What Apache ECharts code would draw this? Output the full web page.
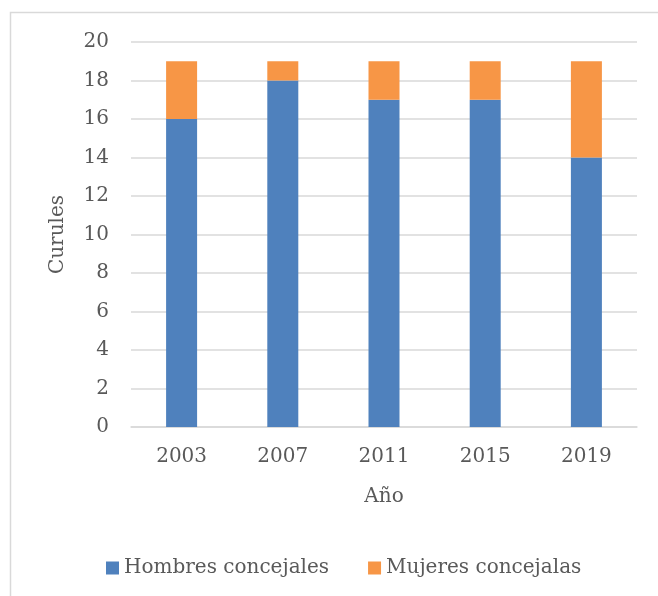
<!DOCTYPE html>
<html>
<head>
<meta charset="utf-8">
<script src="https://cdn.jsdelivr.net/npm/echarts@6/dist/echarts.min.js"></script>
<style>
  html, body { margin: 0; padding: 0; background: #fff; }
  #main { width: 658px; height: 596px; }
</style>
</head>
<body>
<div id="main"></div>
<script>
var anios = ['2003', '2007', '2011', '2015', '2019'];
var hombres = [16, 18, 17, 17, 14];
var mujeres = [3, 1, 2, 2, 5];

var fuente = 'DejaVu Serif';
var gris = '#595959';

var myChart = echarts.init(document.getElementById('main'));
var option = {
    backgroundColor: '#fff',
    textStyle: { fontFamily: fuente },
    graphic: [{
        type: 'rect',
        shape: { x: 10.5, y: 12.5, width: 700, height: 700 },
        style: { fill: 'none', stroke: '#d9d9d9', lineWidth: 1.5 },
        silent: true
    }],
    grid: { left: 131, right: 21, top: 42, bottom: 169 },
    legend: {
        top: 553,
        left: 101,
        icon: 'rect',
        itemWidth: 13,
        itemHeight: 13,
        itemGap: 39,
        itemTextGap: 6,
        textStyle: { fontFamily: fuente, fontSize: 20, color: gris },
        data: ['Hombres concejales', 'Mujeres concejalas']
    },
    xAxis: {
        type: 'category',
        data: anios,
        name: 'Año',
        nameLocation: 'middle',
        nameGap: 60,
        nameTextStyle: { fontFamily: fuente, fontSize: 20, color: gris },
        axisLine: { lineStyle: { color: '#d9d9d9', width: 1.5 } },
        axisTick: { show: false },
        axisLabel: { fontFamily: fuente, fontSize: 20, color: gris, margin: 20 }
    },
    yAxis: {
        type: 'value',
        min: 0,
        max: 20,
        interval: 2,
        name: 'Curules',
        nameLocation: 'middle',
        nameGap: 63,
        nameTextStyle: { fontFamily: fuente, fontSize: 20, color: gris },
        axisLine: { show: false },
        axisTick: { show: false },
        splitLine: { lineStyle: { color: '#d9d9d9', width: 1.5 } },
        axisLabel: { fontFamily: fuente, fontSize: 20, color: gris, margin: 22 }
    },
    series: [
        {
            name: 'Hombres concejales',
            type: 'bar',
            stack: 'total',
            barWidth: 31,
            itemStyle: { color: '#4f81bd' },
            data: hombres
        },
        {
            name: 'Mujeres concejalas',
            type: 'bar',
            stack: 'total',
            barWidth: 31,
            itemStyle: { color: '#f79646' },
            data: mujeres
        }
    ]
};
myChart.setOption(option);
</script>
</body>
</html>
